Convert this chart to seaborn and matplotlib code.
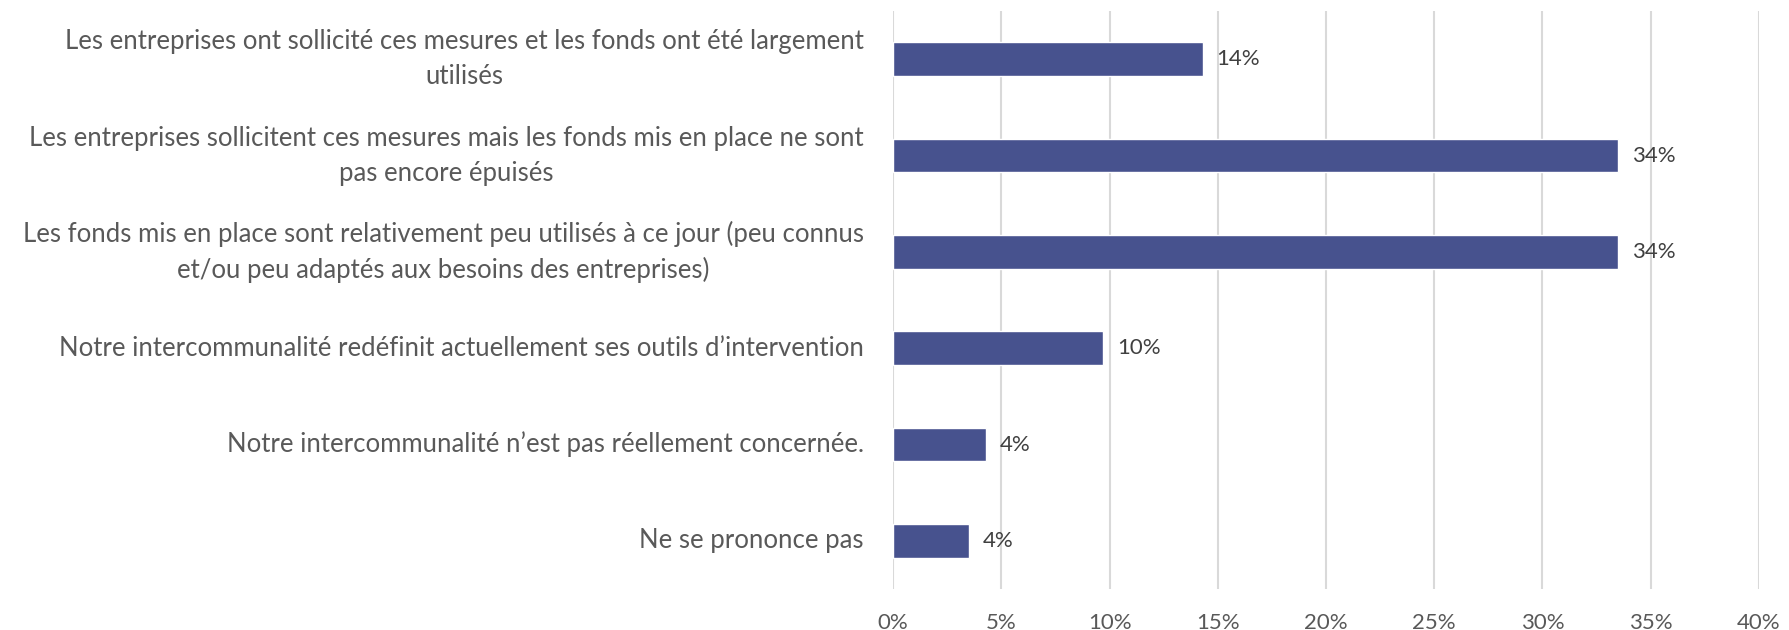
import matplotlib
matplotlib.use("Agg")
import matplotlib.pyplot as plt
import seaborn as sns
from matplotlib.ticker import FuncFormatter

# Survey answers (top to bottom) and share of respondents in %
categories = [
    "Les entreprises ont sollicité ces mesures et les fonds ont été largement\nutilisés",
    "Les entreprises sollicitent ces mesures mais les fonds mis en place ne sont\npas encore épuisés",
    "Les fonds mis en place sont relativement peu utilisés à ce jour (peu connus\net/ou peu adaptés aux besoins des entreprises)",
    "Notre intercommunalité redéfinit actuellement ses outils d’intervention",
    "Notre intercommunalité n’est pas réellement concernée.",
    "Ne se prononce pas",
]
values = [14.3, 33.5, 33.5, 9.7, 4.3, 3.5]
x_ticks = [0, 5, 10, 15, 20, 25, 30, 35, 40]

sns.set_theme(style="white")
plt.rcParams["font.family"] = ["Lato", "DejaVu Sans"]

fig = plt.figure(figsize=(17.89, 6.3), dpi=100)
ax = fig.add_axes([0.4992, 0.065, 0.4840, 0.9175])

sns.barplot(x=values, y=categories, orient="h", color="#47528E",
            saturation=1, width=0.35, ax=ax)

ax.bar_label(ax.containers[0], labels=[f"{v:.0f}%" for v in values],
             padding=10, fontsize=16, color="#404040")

ax.set_xlim(0, 40)
ax.set_xticks(x_ticks)
ax.xaxis.set_major_formatter(FuncFormatter(lambda v, _: f"{v:.0f}%"))
ax.grid(axis="x", color="#D9D9D9", linewidth=1.5)
ax.set_axisbelow(True)
sns.despine(ax=ax, left=True, bottom=True)

ax.tick_params(axis="y", length=0, pad=21, labelsize=18.5, labelcolor="#595959")
ax.tick_params(axis="x", length=0, pad=17, labelsize=16, labelcolor="#595959")
for t in ax.get_yticklabels():
    t.set_multialignment("center")
    t.set_linespacing(1.5)
    t.set_verticalalignment("center")

ax.set_xlabel("")
ax.set_ylabel("")

fig.savefig("out.png", dpi=100)
